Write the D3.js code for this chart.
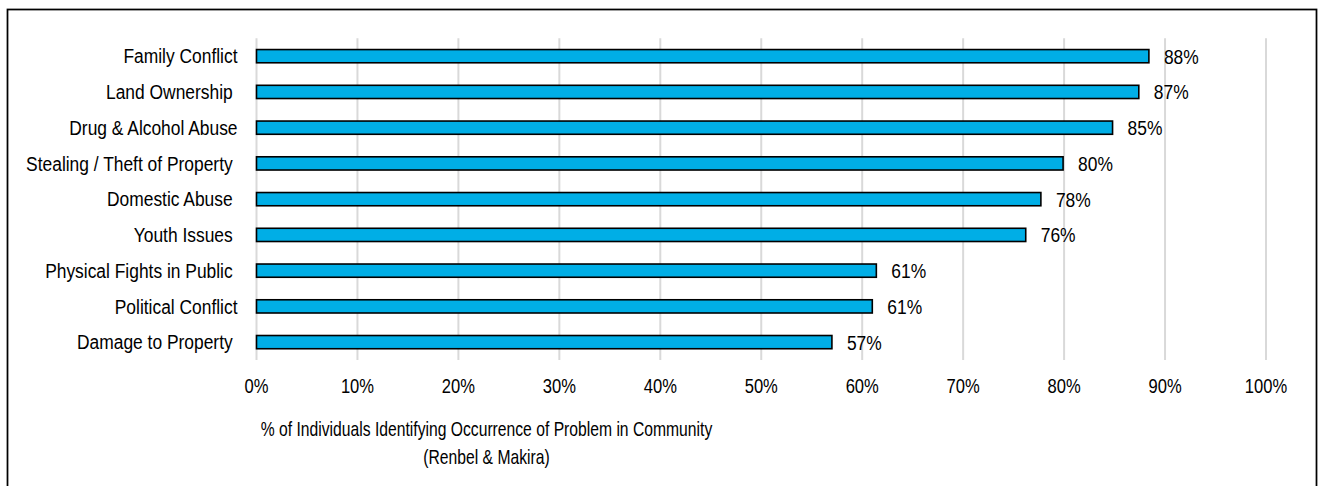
<!DOCTYPE html>
<html>
<head>
<meta charset="utf-8">
<script src="https://cdn.jsdelivr.net/npm/d3@7/dist/d3.min.js"></script>
<style>
  html, body { margin: 0; padding: 0; background: #fff; }
  svg { display: block; font-family: "Liberation Sans", Arial, sans-serif; }
  text { white-space: pre; }
</style>
</head>
<body>
<svg id="chart" width="1319" height="486"></svg>
<script>
// Problem categories, top to bottom (some labels carry a trailing space)
const categories = [
  "Family Conflict",
  "Land Ownership ",
  "Drug & Alcohol Abuse",
  "Stealing / Theft of Property ",
  "Domestic Abuse ",
  "Youth Issues ",
  "Physical Fights in Public ",
  "Political Conflict",
  "Damage to Property "
];
// Share of individuals identifying each problem (%)
const values = [88.4, 87.4, 84.8, 79.9, 77.7, 76.2, 61.4, 61.0, 57.0];
// Axis ticks (%)
const ticks = [0, 10, 20, 30, 40, 50, 60, 70, 80, 90, 100];
const titleLines = [
  "% of Individuals Identifying Occurrence of Problem in Community",
  "(Renbel & Makira)"
];

const svg = d3.select("#chart");

// Narrow type: regular sans squeezed horizontally
const labelFont = { size: 20, sx: 0.87 };
const tickFont = { size: 19.5, sx: 0.85 };
const titleFont = { size: 20.5, sx: 0.765 };

function narrowText(sel, font, px, py) {
  sel.attr("x", 0).attr("y", 0)
    .attr("font-size", font.size)
    .attr("fill", "#000")
    .attr("transform", (d, i) => `translate(${px(d, i)},${py(d, i)}) scale(${font.sx},1)`);
  return sel;
}

// Outer frame
svg.append("rect")
  .attr("x", 7.5).attr("y", 9.5)
  .attr("width", 1309).attr("height", 520)
  .attr("fill", "none").attr("stroke", "#000").attr("stroke-width", 1.75);

const plot = { left: 256.5, right: 1266, top: 38.3, bottom: 360 };

const x = d3.scaleLinear().domain([0, 100]).range([plot.left, plot.right]);
const y = d3.scaleBand().domain(categories).range([plot.top, plot.bottom]).paddingInner(0.63).paddingOuter(0.315);
const yMid = (i) => y(categories[i]) + y.bandwidth() / 2;

// Vertical gridlines
svg.append("g").selectAll("line").data(ticks).join("line")
  .attr("x1", d => x(d)).attr("x2", d => x(d))
  .attr("y1", plot.top).attr("y2", plot.bottom)
  .attr("stroke", "#d9d9d9").attr("stroke-width", 2);

// Bars
svg.append("g").selectAll("rect").data(values).join("rect")
  .attr("x", x(0))
  .attr("y", (d, i) => y(categories[i]))
  .attr("width", d => x(d) - x(0))
  .attr("height", y.bandwidth())
  .attr("fill", "#00AEE6")
  .attr("stroke", "#000").attr("stroke-width", 1.6);

// Value labels
narrowText(
  svg.append("g").selectAll("text").data(values).join("text").text(d => Math.round(d) + "%"),
  labelFont, d => x(d) + 15, (d, i) => yMid(i) + 7.5);

// Category labels
narrowText(
  svg.append("g").selectAll("text").data(categories).join("text")
    .attr("text-anchor", "end").text(d => d),
  labelFont, () => 237.5, (d, i) => yMid(i) + 7.2);

// X axis tick labels
const xAxis = d3.axisBottom(x).tickValues(ticks).tickSize(0).tickPadding(0).tickFormat(d => d + "%");
const gx = svg.append("g").attr("transform", "translate(0,393)").call(xAxis);
gx.select(".domain").remove();
gx.selectAll(".tick").attr("transform", null);
narrowText(gx.selectAll("text").attr("dy", null).attr("font-family", null),
  tickFont, d => x(d), () => 0);

// Axis title
narrowText(
  svg.append("g").selectAll("text").data(titleLines).join("text")
    .attr("text-anchor", "middle").text(d => d),
  titleFont, () => 486.5, (d, i) => 436 + i * 27.5);
</script>
</body>
</html>
